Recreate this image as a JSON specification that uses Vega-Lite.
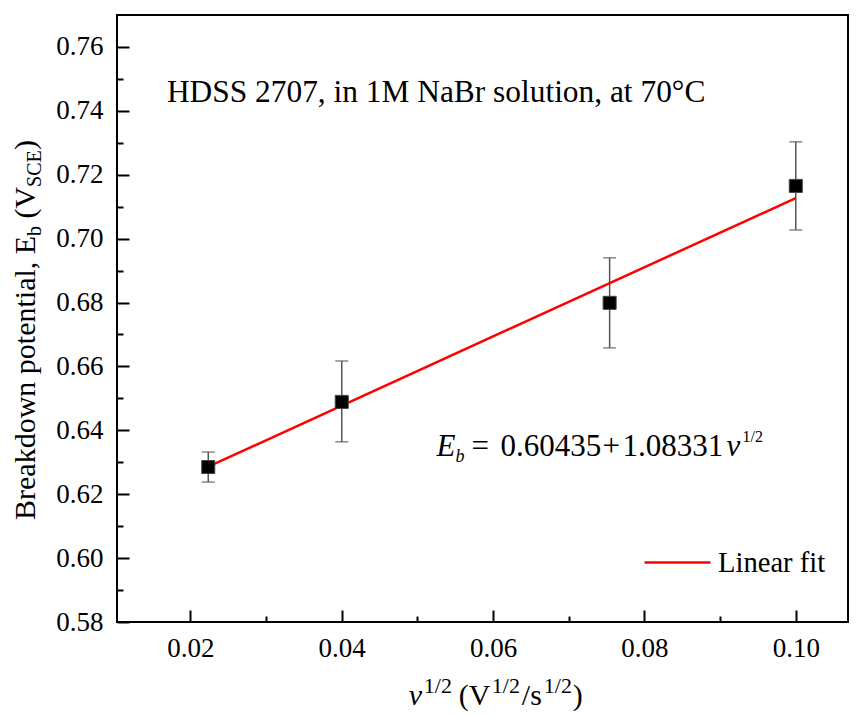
{
  "$schema": "https://vega.github.io/schema/vega-lite/v6.json",
  "width": 731,
  "height": 607,
  "autosize": {"type": "none"},
  "padding": {"left": 117, "top": 15, "right": 13, "bottom": 94},
  "background": "white",
  "config": {"view": {"stroke": "black", "strokeWidth": 2}, "font": "Liberation Serif"},
  "datasets": {
    "pts": [
      {"v": 0.02236, "eb": 0.6285, "lo": 0.6238, "hi": 0.6332},
      {"v": 0.0400, "eb": 0.6489, "lo": 0.6364, "hi": 0.6617},
      {"v": 0.0754, "eb": 0.6799, "lo": 0.6658, "hi": 0.6940},
      {"v": 0.1000, "eb": 0.7165, "lo": 0.7027, "hi": 0.7303}
    ],
    "fit": [
      {"v": 0.02236, "eb": 0.6286},
      {"v": 0.1000, "eb": 0.7127}
    ]
  },
  "resolve": {"axis": {"x": "independent", "y": "independent"}},
  "layer": [
    {
      "data": {"name": "pts"},
      "mark": {"type": "rule", "color": "#555555", "strokeWidth": 1.5},
      "encoding": {
        "x": {"field": "v", "type": "quantitative",
          "scale": {"domain": [0.0103, 0.1069], "nice": false, "zero": false},
          "axis": {"orient": "bottom", "values": [0.02, 0.04, 0.06, 0.08, 0.1], "labels": false, "domain": false, "grid": false, "tickSize": -12, "tickWidth": 2, "tickColor": "black", "title": null}},
        "y": {"field": "lo", "type": "quantitative",
          "scale": {"domain": [0.58, 0.77], "nice": false, "zero": false},
          "axis": {"orient": "left", "values": [0.58, 0.60, 0.62, 0.64, 0.66, 0.68, 0.70, 0.72, 0.74, 0.76], "labels": false, "domain": false, "grid": false, "tickSize": -12, "tickWidth": 2, "tickColor": "black", "title": null}},
        "y2": {"field": "hi"}
      }
    },
    {
      "data": {"name": "pts"},
      "mark": {"type": "tick", "orient": "horizontal", "size": 13, "thickness": 1.5, "color": "#555555"},
      "encoding": {
        "x": {"field": "v", "type": "quantitative", "axis": null},
        "y": {"field": "lo", "type": "quantitative", "axis": null}
      }
    },
    {
      "data": {"name": "pts"},
      "mark": {"type": "tick", "orient": "horizontal", "size": 13, "thickness": 1.5, "color": "#555555"},
      "encoding": {
        "x": {"field": "v", "type": "quantitative", "axis": null},
        "y": {"field": "hi", "type": "quantitative", "axis": null}
      }
    },
    {
      "data": {"name": "fit"},
      "mark": {"type": "line", "strokeWidth": 2.5},
      "encoding": {
        "x": {"field": "v", "type": "quantitative",
          "axis": {"orient": "bottom", "values": [0.03, 0.05, 0.07, 0.09], "labels": false, "domain": false, "grid": false, "tickSize": -6, "tickWidth": 2, "tickColor": "black", "title": null}},
        "y": {"field": "eb", "type": "quantitative",
          "axis": {"orient": "left", "values": [0.59, 0.61, 0.63, 0.65, 0.67, 0.69, 0.71, 0.73, 0.75], "labels": false, "domain": false, "grid": false, "tickSize": -6, "tickWidth": 2, "tickColor": "black", "title": null}},
        "color": {"datum": "Linear fit", "type": "nominal",
          "scale": {"range": ["#ff0000"]},
          "legend": {"orient": "none", "legendX": 526, "legendY": 513, "symbolType": "stroke", "symbolSize": 4356, "symbolStrokeWidth": 2.5, "labelFontSize": 28.6, "labelFont": "Liberation Serif", "labelColor": "black", "labelOffset": 6, "title": null, "padding": 0}}
      }
    },
    {
      "data": {"name": "pts"},
      "mark": {"type": "square", "size": 170, "filled": true, "color": "black", "stroke": "#444444", "strokeWidth": 1, "opacity": 1},
      "encoding": {
        "x": {"field": "v", "type": "quantitative",
          "axis": {"orient": "bottom", "values": [0.02, 0.04, 0.06, 0.08, 0.1], "format": ".2f", "ticks": false, "domain": false, "grid": false, "labelPadding": 13, "labelFontSize": 27, "labelFont": "Liberation Serif", "labelColor": "black", "labelOverlap": false, "labelFlush": false, "title": null}},
        "y": {"field": "eb", "type": "quantitative",
          "axis": {"orient": "left", "values": [0.58, 0.60, 0.62, 0.64, 0.66, 0.68, 0.70, 0.72, 0.74, 0.76], "format": ".2f", "ticks": false, "domain": false, "grid": false, "labelPadding": 14, "labelFontSize": 27, "labelFont": "Liberation Serif", "labelColor": "black", "labelOverlap": false, "labelFlush": false, "title": null}}
      }
    },
    {
      "data": {"values": [{}]},
      "mark": {"type": "text", "align": "left", "baseline": "alphabetic", "font": "Liberation Serif", "fontSize": 31.4, "color": "black"},
      "encoding": {
        "x": {"datum": 0.0169, "type": "quantitative", "axis": null},
        "y": {"datum": 0.7428, "type": "quantitative", "axis": null},
        "text": {"value": "HDSS 2707, in 1M NaBr solution, at 70°C"}
      }
    },
    {
      "data": {"values": [{}]},
      "encoding": {
        "x": {"datum": 0.05253, "type": "quantitative", "axis": null},
        "y": {"datum": 0.6320, "type": "quantitative", "axis": null}
      },
      "layer": [
        {"mark": {"type": "text", "align": "left", "baseline": "alphabetic", "font": "Liberation Serif", "fontStyle": "italic", "fontSize": 31, "color": "black", "dx": 0}, "encoding": {"text": {"value": "E"}}},
        {"mark": {"type": "text", "align": "left", "baseline": "alphabetic", "font": "Liberation Serif", "fontStyle": "italic", "fontSize": 18, "color": "black", "dx": 19, "dy": 6}, "encoding": {"text": {"value": "b"}}},
        {"mark": {"type": "text", "align": "left", "baseline": "alphabetic", "font": "Liberation Serif", "fontSize": 31, "color": "black", "dx": 35}, "encoding": {"text": {"value": "="}}},
        {"mark": {"type": "text", "align": "left", "baseline": "alphabetic", "font": "Liberation Serif", "fontSize": 31, "color": "black", "dx": 64}, "encoding": {"text": {"value": "0.60435"}}},
        {"mark": {"type": "text", "align": "left", "baseline": "alphabetic", "font": "Liberation Serif", "fontSize": 31, "color": "black", "dx": 166}, "encoding": {"text": {"value": "+"}}},
        {"mark": {"type": "text", "align": "left", "baseline": "alphabetic", "font": "Liberation Serif", "fontSize": 31, "color": "black", "dx": 186}, "encoding": {"text": {"value": "1.08331"}}},
        {"mark": {"type": "text", "align": "left", "baseline": "alphabetic", "font": "Liberation Serif", "fontStyle": "italic", "fontSize": 31, "color": "black", "dx": 290}, "encoding": {"text": {"value": "ν"}}},
        {"mark": {"type": "text", "align": "left", "baseline": "alphabetic", "font": "Liberation Serif", "fontSize": 16, "color": "black", "dx": 306, "dy": -14}, "encoding": {"text": {"value": "1/2"}}}
      ]
    },
    {
      "data": {"values": [{}]},
      "encoding": {
        "x": {"datum": -0.00053, "type": "quantitative", "axis": null},
        "y": {"datum": 0.61194, "type": "quantitative", "axis": null}
      },
      "layer": [
        {"mark": {"type": "text", "angle": 270, "align": "left", "baseline": "alphabetic", "font": "Liberation Serif", "fontSize": 30, "color": "black", "dx": 0}, "encoding": {"text": {"value": "Breakdown potential, E"}}},
        {"mark": {"type": "text", "angle": 270, "align": "left", "baseline": "alphabetic", "font": "Liberation Serif", "fontSize": 20, "color": "black", "dx": 284, "dy": 6}, "encoding": {"text": {"value": "b"}}},
        {"mark": {"type": "text", "angle": 270, "align": "left", "baseline": "alphabetic", "font": "Liberation Serif", "fontSize": 30, "color": "black", "dx": 301.5}, "encoding": {"text": {"value": "(V"}}},
        {"mark": {"type": "text", "angle": 270, "align": "left", "baseline": "alphabetic", "font": "Liberation Serif", "fontSize": 20, "color": "black", "dx": 333, "dy": 6}, "encoding": {"text": {"value": "SCE"}}},
        {"mark": {"type": "text", "angle": 270, "align": "left", "baseline": "alphabetic", "font": "Liberation Serif", "fontSize": 30, "color": "black", "dx": 370}, "encoding": {"text": {"value": ")"}}}
      ]
    },
    {
      "data": {"values": [{}]},
      "encoding": {
        "x": {"datum": 0.04887, "type": "quantitative", "axis": null},
        "y": {"datum": 0.55404, "type": "quantitative", "axis": null}
      },
      "layer": [
        {"mark": {"type": "text", "align": "left", "baseline": "alphabetic", "font": "Liberation Serif", "fontStyle": "italic", "fontSize": 30, "color": "black", "dx": 0}, "encoding": {"text": {"value": "ν"}}},
        {"mark": {"type": "text", "align": "left", "baseline": "alphabetic", "font": "Liberation Serif", "fontSize": 22, "color": "black", "dx": 15, "dy": -12}, "encoding": {"text": {"value": "1/2"}}},
        {"mark": {"type": "text", "align": "left", "baseline": "alphabetic", "font": "Liberation Serif", "fontSize": 30, "color": "black", "dx": 50}, "encoding": {"text": {"value": "(V"}}},
        {"mark": {"type": "text", "align": "left", "baseline": "alphabetic", "font": "Liberation Serif", "fontSize": 22, "color": "black", "dx": 83, "dy": -12}, "encoding": {"text": {"value": "1/2"}}},
        {"mark": {"type": "text", "align": "left", "baseline": "alphabetic", "font": "Liberation Serif", "fontSize": 30, "color": "black", "dx": 113}, "encoding": {"text": {"value": "/s"}}},
        {"mark": {"type": "text", "align": "left", "baseline": "alphabetic", "font": "Liberation Serif", "fontSize": 22, "color": "black", "dx": 135, "dy": -12}, "encoding": {"text": {"value": "1/2"}}},
        {"mark": {"type": "text", "align": "left", "baseline": "alphabetic", "font": "Liberation Serif", "fontSize": 30, "color": "black", "dx": 164}, "encoding": {"text": {"value": ")"}}}
      ]
    }
  ]
}
